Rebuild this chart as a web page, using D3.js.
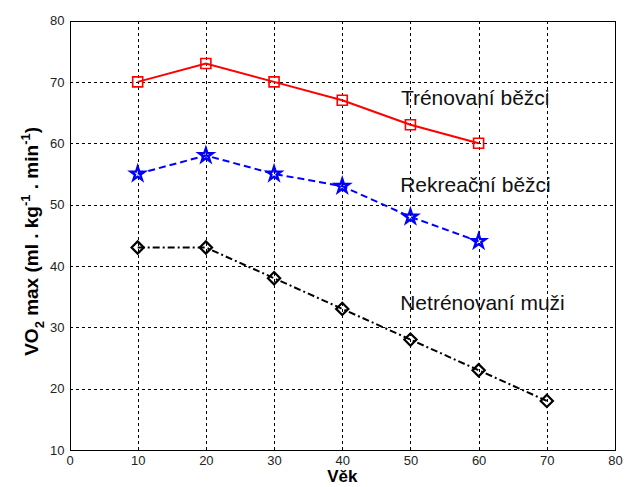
<!DOCTYPE html>
<html>
<head>
<meta charset="utf-8">
<script src="https://cdn.jsdelivr.net/npm/d3@7"></script>
<style>
  html, body { margin: 0; padding: 0; background: #fff; }
  svg { display: block; }
</style>
</head>
<body>
<svg id="chart" width="629" height="487"></svg>
<script>
// Ages along the x axis
const ages = [10, 20, 30, 40, 50, 60, 70];
// VO2 max by group
const trained = [70, 73, 70, 67, 63, 60];
const recreational = [55, 58, 55, 53, 48, 44];
const untrained = [43, 43, 38, 33, 28, 23, 18];
// Axis ticks
const xTicks = [0, 10, 20, 30, 40, 50, 60, 70, 80];
const yTicks = [10, 20, 30, 40, 50, 60, 70, 80];
// Group labels and where they sit (data units)
const groupNames = ["Trénovaní běžci", "Rekreační běžci", "Netrénovaní muži"];
const labelAnchors = [[48.6, 66.2], [48.5, 52.1], [48.5, 32.8]];

const svg = d3.select("#chart");
const m = { left: 69.5, right: 14, top: 20.5, bottom: 37 };
const W = 629, H = 487;
const FONT = "Liberation Sans, Arial, sans-serif";

const x = d3.scaleLinear().domain([0, 80]).range([m.left, W - m.right]);
const y = d3.scaleLinear().domain([10, 80]).range([H - m.bottom, m.top]);

// Grid
const grid = svg.append("g").attr("stroke", "#000").attr("stroke-width", 1)
  .attr("stroke-dasharray", "3,3").attr("shape-rendering", "crispEdges");
grid.selectAll(".gx").data(xTicks.slice(1, -1)).join("line")
  .attr("x1", d => Math.round(x(d)) + 0.5).attr("x2", d => Math.round(x(d)) + 0.5)
  .attr("y1", y(80)).attr("y2", y(10));
grid.selectAll(".gy").data(yTicks.slice(1, -1)).join("line")
  .attr("y1", d => Math.round(y(d)) + 0.5).attr("y2", d => Math.round(y(d)) + 0.5)
  .attr("x1", x(0)).attr("x2", x(80));

// Frame
svg.append("rect")
  .attr("x", Math.round(x(0)) + 0.5).attr("y", Math.round(y(80)) + 0.5)
  .attr("width", Math.round(x(80)) - Math.round(x(0)))
  .attr("height", Math.round(y(10)) - Math.round(y(80)))
  .attr("fill", "none").attr("stroke", "#000").attr("stroke-width", 1)
  .attr("shape-rendering", "crispEdges");

// Axes (tick labels only)
const xAxis = d3.axisBottom(x).tickValues(xTicks).tickSize(0).tickPadding(6);
const gx = svg.append("g").attr("transform", `translate(0,${y(10)})`).call(xAxis);
gx.select(".domain").remove();
gx.selectAll("text").attr("font-family", FONT).attr("font-size", 13).attr("fill", "#222");

const yAxis = d3.axisLeft(y).tickValues(yTicks).tickSize(0).tickPadding(5);
const gy = svg.append("g").attr("transform", `translate(${x(0)},0)`).call(yAxis);
gy.select(".domain").remove();
gy.selectAll("text").attr("font-family", FONT).attr("font-size", 13).attr("fill", "#222");

// Axis titles
svg.append("text").attr("x", x(40)).attr("y", 482)
  .attr("text-anchor", "middle").attr("font-family", FONT)
  .attr("font-size", 17).attr("font-weight", "bold").text("Věk");

const yt = svg.append("text").attr("transform", `translate(38,${y(44)}) rotate(-90)`)
  .attr("text-anchor", "middle").attr("font-family", FONT)
  .attr("font-size", 19).attr("font-weight", "bold");
yt.append("tspan").text("VO");
yt.append("tspan").attr("font-size", 13).attr("dy", 6).text("2");
yt.append("tspan").attr("dy", -6).text(" max (ml . kg");
yt.append("tspan").attr("font-size", 13).attr("dy", -8).text("-1");
yt.append("tspan").attr("dy", 8).text(" . min");
yt.append("tspan").attr("font-size", 13).attr("dy", -8).text("-1");
yt.append("tspan").attr("dy", 8).text(")");

const line = d3.line().x(d => x(d[0])).y(d => y(d[1]));

function series(values, color, dash, symbol, size, sw) {
  const pts = values.map((v, i) => [ages[i], v]);
  svg.append("path").datum(pts).attr("d", line)
    .attr("fill", "none").attr("stroke", color).attr("stroke-width", 2)
    .attr("stroke-dasharray", dash);
  svg.append("g").selectAll("path").data(pts).join("path")
    .attr("transform", d => `translate(${x(d[0])},${y(d[1])})`)
    .attr("d", d3.symbol().type(symbol).size(size))
    .attr("fill", "none").attr("stroke", color).attr("stroke-width", sw)
    .attr("stroke-linejoin", "miter");
}

// Upright diamond marker
const diamond = {
  draw(ctx, size) {
    const r = Math.sqrt(size) / 2;
    ctx.moveTo(0, -r); ctx.lineTo(r, 0); ctx.lineTo(0, r); ctx.lineTo(-r, 0); ctx.closePath();
  }
};

series(trained, "#ff0000", null, d3.symbolSquare, 100, 1.6);
series(recreational, "#0000ff", "7,4", d3.symbolStar, 58, 2.4);
series(untrained, "#000000", "7,3,2,3", diamond, 150, 2.2);

// Group labels
svg.append("g").selectAll("text").data(groupNames).join("text")
  .attr("x", (d, i) => x(labelAnchors[i][0]))
  .attr("y", (d, i) => y(labelAnchors[i][1]))
  .attr("font-family", FONT)
  .attr("font-size", 21).attr("fill", "#111")
  .text(d => d);
</script>
</body>
</html>
